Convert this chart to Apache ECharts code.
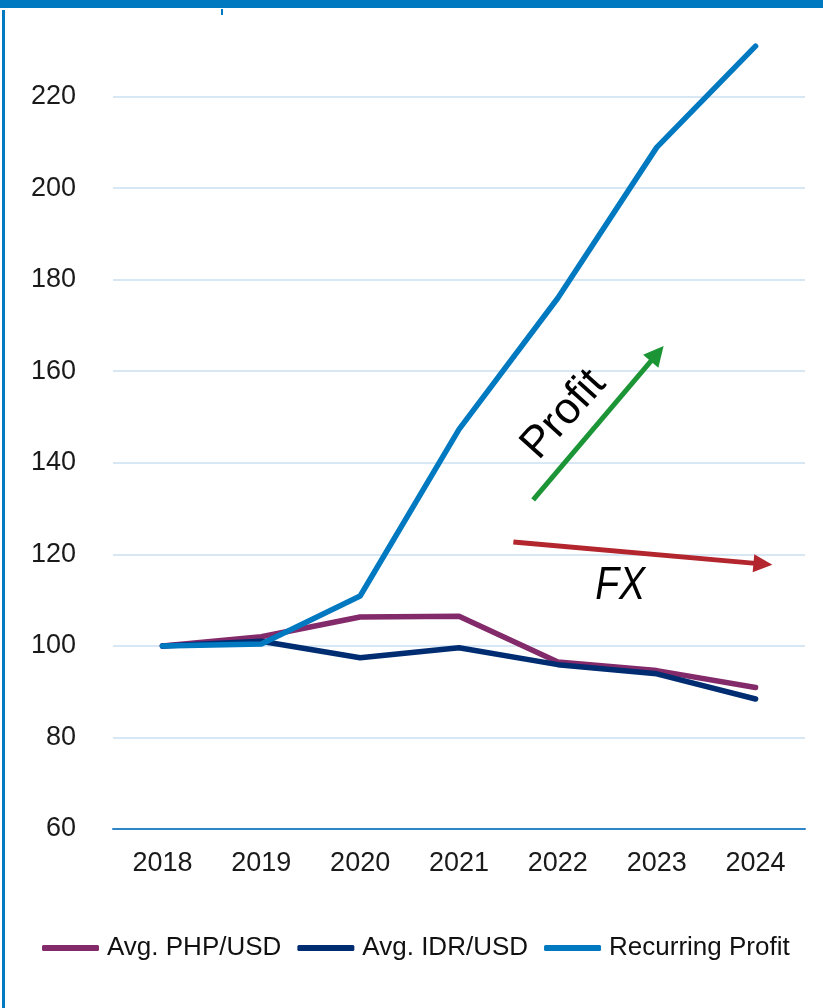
<!DOCTYPE html>
<html>
<head>
<meta charset="utf-8">
<script src="https://cdn.jsdelivr.net/npm/echarts@6/dist/echarts.min.js"></script>
<style>
  html, body { margin: 0; padding: 0; background: #ffffff; }
  #chart { width: 823px; height: 1008px; }
</style>
</head>
<body>
<div id="chart"></div>
<script>
// Indexed values (2018 = 100)
const years = ['2018', '2019', '2020', '2021', '2022', '2023', '2024'];
const phpUsd = [100, 102.0, 106.3, 106.5, 96.5, 94.6, 90.9];
const idrUsd = [100, 101.0, 97.4, 99.6, 95.9, 93.9, 88.4];
const recurringProfit = [100, 100.4, 110.9, 147.3, 176.0, 208.9, 231.0];
const seriesNames = ['Avg. PHP/USD', 'Avg. IDR/USD', 'Recurring Profit'];

// Trend arrows, anchored in data space: [category position, value]
const profitArrow = { from: [3.75, 131.9], to: [5.07, 165.5] };
const fxArrow = { from: [3.55, 122.7], to: [6.17, 117.7] };
const profitLabel = { text: 'Profit', at: [4.06, 150.5] };
const fxLabel = { text: 'FX', at: [4.63, 113.0] };

const FONT = '"Liberation Sans", Arial, sans-serif';
const BLUE = '#0079C1';
const colors = ['#832A6B', '#002D72', BLUE];

const chart = echarts.init(document.getElementById('chart'), null, { renderer: 'canvas' });

const values = [phpUsd, idrUsd, recurringProfit];

chart.setOption({
  backgroundColor: '#ffffff',
  animation: false,
  color: colors,
  grid: { left: 113, right: 18, top: 5, bottom: 179, containLabel: false },
  legend: {
    left: 37,
    top: 930,
    icon: 'roundRect',
    itemWidth: 57,
    itemHeight: 6,
    itemGap: 16,
    textStyle: { fontFamily: FONT, fontSize: 26, color: '#111111', padding: [0, 0, 0, 3] },
    data: seriesNames
  },
  xAxis: {
    type: 'category',
    data: years,
    boundaryGap: true,
    axisLine: { show: true, lineStyle: { color: '#2E86C8', width: 2 } },
    axisTick: { show: false },
    axisLabel: { fontFamily: FONT, fontSize: 27, color: '#1a1a1a', margin: 21 }
  },
  yAxis: {
    type: 'value',
    min: 60,
    max: 240,
    interval: 20,
    axisLine: { show: false },
    axisTick: { show: false },
    axisLabel: {
      fontFamily: FONT, fontSize: 27, color: '#1a1a1a', margin: 37,
      formatter: v => (v >= 240 ? '' : String(v))
    },
    splitLine: { show: true, lineStyle: { color: '#D8E7F4', width: 2 } }
  },
  series: seriesNames.map((name, i) => ({
    name,
    type: 'line',
    data: values[i],
    symbol: 'none',
    smooth: false,
    z: 2 + i,
    lineStyle: { width: 5.5, color: colors[i], cap: 'round', join: 'round' },
    itemStyle: { color: colors[i] }
  }))
});

// Map a [category position, value] pair to pixels; category positions may be fractional
function toPx(pt) {
  const x0 = chart.convertToPixel({ xAxisIndex: 0 }, 0);
  const x1 = chart.convertToPixel({ xAxisIndex: 0 }, years.length - 1);
  const x = x0 + (x1 - x0) * pt[0] / (years.length - 1);
  const y = chart.convertToPixel({ yAxisIndex: 0 }, pt[1]);
  return [x, y];
}

function arrow(spec, color, width, headLen, headHalf) {
  const a = toPx(spec.from);
  const b = toPx(spec.to);
  const dx = b[0] - a[0], dy = b[1] - a[1];
  const len = Math.sqrt(dx * dx + dy * dy);
  const ux = dx / len, uy = dy / len;
  const bx = b[0] - ux * headLen, by = b[1] - uy * headLen;
  const nx = -uy, ny = ux;
  return [
    {
      type: 'line', z: 50,
      shape: { x1: a[0], y1: a[1], x2: bx + ux * 2, y2: by + uy * 2 },
      style: { stroke: color, lineWidth: width }
    },
    {
      type: 'polygon', z: 50,
      shape: { points: [[b[0], b[1]], [bx + nx * headHalf, by + ny * headHalf], [bx - nx * headHalf, by - ny * headHalf]] },
      style: { fill: color }
    }
  ];
}

const pLab = toPx(profitLabel.at);
const fLab = toPx(fxLabel.at);

chart.setOption({
  graphic: [
    // frame: top band, left rule, small tick
    { type: 'rect', z: 100, shape: { x: 0, y: 0, width: 823, height: 8 }, style: { fill: BLUE } },
    { type: 'rect', z: 100, shape: { x: 2, y: 10, width: 3, height: 998 }, style: { fill: BLUE } },
    { type: 'rect', z: 100, shape: { x: 221, y: 9, width: 2, height: 6 }, style: { fill: BLUE } },
    ...arrow(profitArrow, '#1B9535', 5, 20, 10),
    ...arrow(fxArrow, '#B3262E', 5, 19, 9),
    {
      type: 'text', z: 60, x: pLab[0], y: pLab[1], rotation: 48 * Math.PI / 180,
      style: { text: profitLabel.text, fontFamily: FONT, fontSize: 44, fill: '#000000', align: 'center', verticalAlign: 'middle' }
    },
    {
      type: 'text', z: 60, x: fLab[0], y: fLab[1], scaleX: 0.85,
      style: { text: fxLabel.text, fontFamily: FONT, fontSize: 46, fontStyle: 'italic', fill: '#000000', align: 'center', verticalAlign: 'middle' }
    }
  ]
});
</script>
</body>
</html>
